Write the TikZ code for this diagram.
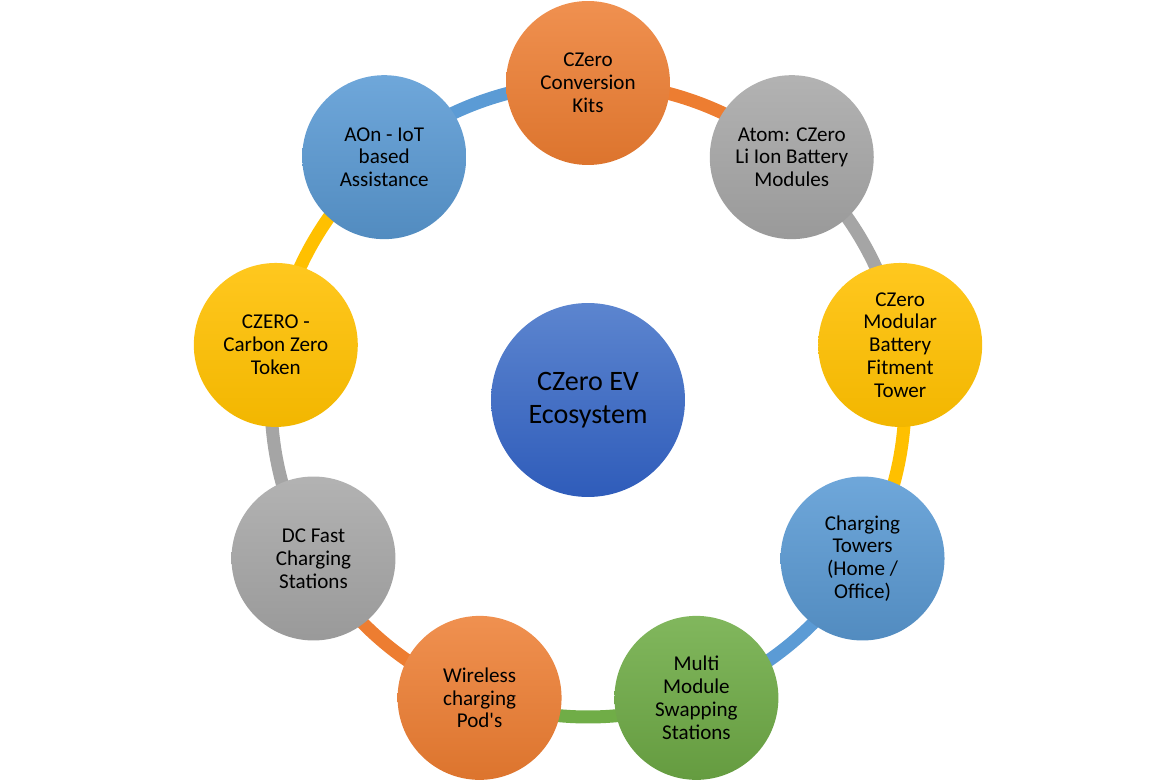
\documentclass[tikz,border=0pt]{standalone}
\usepackage{fontspec}
\usepackage{tikz}
\usepackage{xcolor}
\usetikzlibrary{calc, backgrounds}
\setmainfont{Carlito}
\definecolor{ringorange}{RGB}{237,125,49}
\definecolor{ringgray}{RGB}{165,165,165}
\definecolor{ringyellow}{RGB}{255,192,0}
\definecolor{ringblue}{RGB}{91,155,213}
\definecolor{ringgreen}{RGB}{112,173,71}
\definecolor{hubtop}{RGB}{92,133,207}
\definecolor{hubbottom}{RGB}{47,92,186}

\begin{document}
\begin{tikzpicture}[x=0.02cm, y=0.02cm,
		item/.style={circle, inner sep=0pt, minimum size=3.28cm, align=center,
			font=\fontsize{12}{13}\selectfont, shading=axis},
		orangeitem/.style={item, top color=ringorange!85!white, bottom color=ringorange!93!black},
		grayitem/.style={item, top color=ringgray!85!white, bottom color=ringgray!93!black},
		yellowitem/.style={item, top color=ringyellow!88!white, bottom color=ringyellow!95!black},
		blueitem/.style={item, top color=ringblue!88!white, bottom color=ringblue!90!black},
		greenitem/.style={item, top color=ringgreen!88!white, bottom color=ringgreen!90!black},
		ring/.style={line width=0.26cm}
	]
		\useasboundingbox (0,0) rectangle (1176,781);
		\node[circle, inner sep=0pt, minimum size=3.88cm, align=center, shading=axis,
			top color=hubtop, bottom color=hubbottom, font=\fontsize{16}{18.5}\selectfont]
			(hub) at (588,381) {CZero EV\\Ecosystem};
		\node[orangeitem] (kits) at ($(hub)+(90:317)$) {CZero\\Conversion\\Kits};
		\node[grayitem] (atom) at ($(hub)+(50:317)$) {Atom: CZero\\Li Ion Battery\\Modules};
		\node[yellowitem] (tower) at ($(hub)+(10:317)$) {CZero\\Modular\\Battery\\Fitment\\Tower};
		\node[blueitem] (home) at ($(hub)+(-30:317)$) {Charging\\Towers\\(Home /\\Office)};
		\node[greenitem] (swap) at ($(hub)+(-70:317)$) {Multi\\Module\\Swapping\\Stations};
		\node[orangeitem] (pods) at ($(hub)+(-110:317)$) {Wireless\\charging\\Pod\textquotesingle s};
		\node[grayitem] (fast) at ($(hub)+(-150:317)$) {DC Fast\\Charging\\Stations};
		\node[yellowitem] (token) at ($(hub)+(170:317)$) {CZERO -\\Carbon Zero\\Token};
		\node[blueitem] (aon) at ($(hub)+(130:317)$) {AOn - IoT\\based\\Assistance};
		% ring segments, each one in the colour of the circle it leaves from
		\begin{scope}[on background layer]
			\foreach \a/\ang/\col in {kits/90/ringorange,atom/50/ringgray,tower/10/ringyellow,
				home/-30/ringblue,swap/-70/ringgreen,pods/-110/ringorange,fast/-150/ringgray,
				token/170/ringyellow,aon/130/ringblue}
				\draw[ring, draw=\col] (\a.center) arc[start angle=\ang, delta angle=-40, radius=6.34cm];
		\end{scope}
	\end{tikzpicture}
\end{document}
